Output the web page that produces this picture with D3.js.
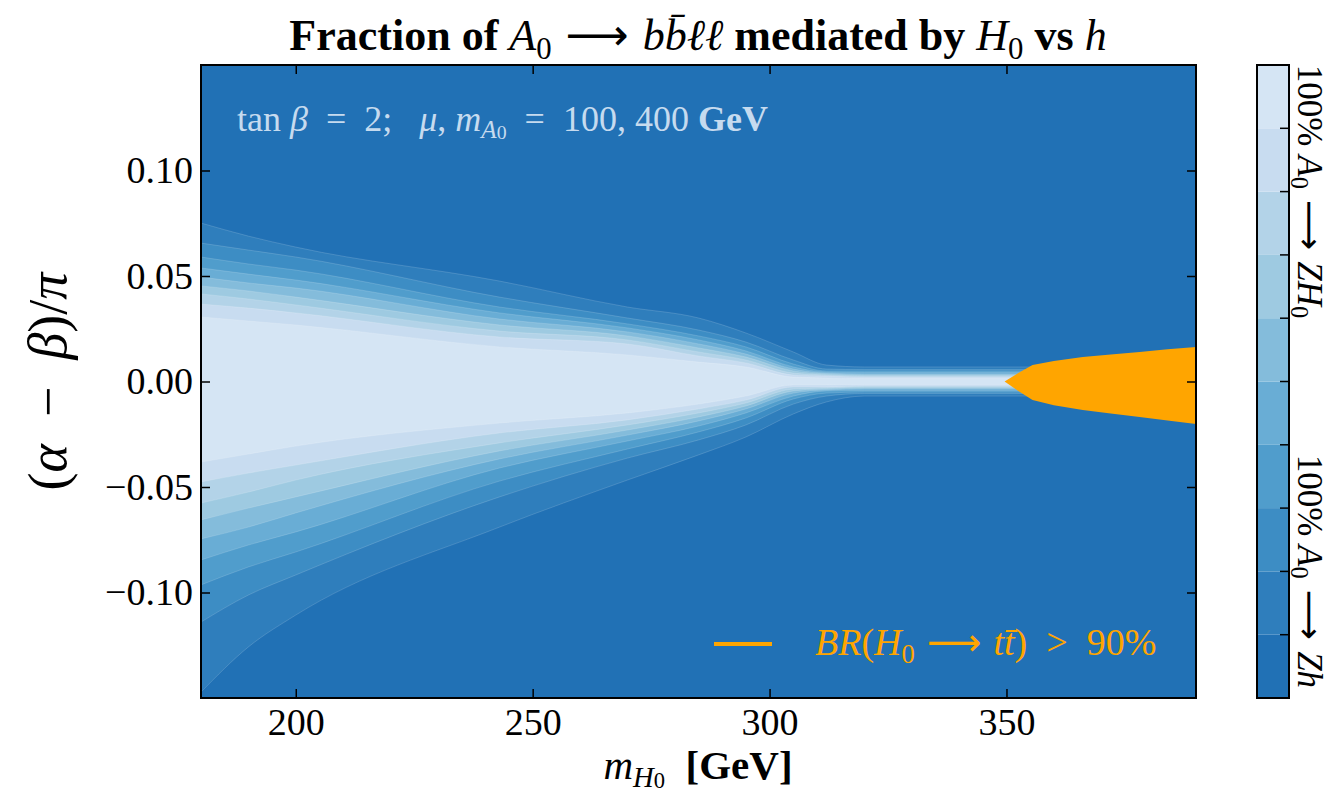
<!DOCTYPE html>
<html>
<head>
<meta charset="utf-8">
<script src="https://cdn.jsdelivr.net/npm/d3@7"></script>
<style>
  body { margin: 0; background: #fff; }
  svg { display: block; }
  text { font-family: "Liberation Serif", "DejaVu Serif", serif; }
</style>
</head>
<body>
<svg id="chart" width="1331" height="796"></svg>
<script>
// mass points (GeV) where the contour edges were read
const massGrid = [180, 190, 200, 243, 270, 285, 295, 305, 312, 320, 390];

// upper edges of the filled contours, outermost level first, (alpha-beta)/pi
const upperEdges = [
  [0.0751, 0.0689, 0.0637, 0.0476, 0.0353, 0.0301, 0.0230, 0.0140, 0.0078, 0.0069, 0.0069],
  [0.0656, 0.0623, 0.0590, 0.0400, 0.0301, 0.0244, 0.0187, 0.0102, 0.0059, 0.0057, 0.0057],
  [0.0590, 0.0557, 0.0528, 0.0353, 0.0273, 0.0216, 0.0164, 0.0083, 0.0050, 0.0050, 0.0050],
  [0.0538, 0.0509, 0.0481, 0.0325, 0.0254, 0.0197, 0.0145, 0.0069, 0.0045, 0.0043, 0.0043],
  [0.0495, 0.0467, 0.0443, 0.0296, 0.0235, 0.0178, 0.0130, 0.0059, 0.0040, 0.0036, 0.0036],
  [0.0453, 0.0429, 0.0400, 0.0268, 0.0216, 0.0159, 0.0116, 0.0050, 0.0036, 0.0031, 0.0031],
  [0.0415, 0.0391, 0.0363, 0.0239, 0.0197, 0.0140, 0.0102, 0.0040, 0.0031, 0.0026, 0.0026],
  [0.0367, 0.0348, 0.0325, 0.0211, 0.0178, 0.0121, 0.0088, 0.0031, 0.0026, 0.0021, 0.0021],
  [0.0306, 0.0287, 0.0268, 0.0164, 0.0126, 0.0092, 0.0069, 0.0021, 0.0017, 0.0014, 0.0014]
];

// lower edges, same order
const lowerEdges = [
  [-0.1472, -0.1258, -0.1107, -0.0690, -0.0467, -0.0348, -0.0263, -0.0154, -0.0097, -0.0069, -0.0069],
  [-0.1140, -0.1012, -0.0917, -0.0547, -0.0363, -0.0277, -0.0206, -0.0107, -0.0069, -0.0057, -0.0057],
  [-0.0964, -0.0879, -0.0808, -0.0472, -0.0320, -0.0239, -0.0173, -0.0083, -0.0055, -0.0050, -0.0050],
  [-0.0846, -0.0775, -0.0713, -0.0410, -0.0282, -0.0211, -0.0149, -0.0069, -0.0045, -0.0043, -0.0043],
  [-0.0746, -0.0690, -0.0623, -0.0367, -0.0254, -0.0187, -0.0130, -0.0055, -0.0040, -0.0036, -0.0036],
  [-0.0656, -0.0600, -0.0547, -0.0329, -0.0230, -0.0168, -0.0116, -0.0045, -0.0036, -0.0031, -0.0031],
  [-0.0576, -0.0524, -0.0467, -0.0291, -0.0206, -0.0149, -0.0102, -0.0036, -0.0031, -0.0026, -0.0026],
  [-0.0476, -0.0434, -0.0396, -0.0244, -0.0182, -0.0130, -0.0088, -0.0026, -0.0026, -0.0021, -0.0021],
  [-0.0382, -0.0344, -0.0306, -0.0197, -0.0149, -0.0107, -0.0069, -0.0017, -0.0017, -0.0014, -0.0014]
];

// BR(H0 -> tt) > 90% region
const ttMass  = [349.6, 352.5, 355.5, 360, 366.1, 372, 378.1, 384, 390];
const ttUpper = [0, 0.0040, 0.0078, 0.0097, 0.0116, 0.0128, 0.0140, 0.0153, 0.0164];
const ttLower = [0, -0.0045, -0.0088, -0.0112, -0.0135, -0.0152, -0.0168, -0.0185, -0.0201];

// colour levels: fraction mediated by H0, 0 = all Zh, 1 = all ZH0
const levels = [0, 0.1, 0.2, 0.3, 0.4, 0.5, 0.6, 0.7, 0.8, 0.9, 1.0];
const levelColors = ["#2171b5", "#2f7ebc", "#3d8dc4", "#509dcc", "#69add5",
                     "#84bcdb", "#9ecae1", "#b3d3e8", "#c8dcf0", "#d5e5f4"];

const xTicks = [200, 250, 300, 350];
const yTicks = [-0.10, -0.05, 0.00, 0.05, 0.10];

const svg = d3.select("#chart");

const plot = { left: 201, right: 1196, top: 65, bottom: 698 };

const x = d3.scaleLinear().domain([180, 390]).range([plot.left, plot.right]);
const y = d3.scaleLinear().domain([-0.15, 0.15]).range([plot.bottom, plot.top]);

const sp = "\u00a0";
const arrow = sp + "\u27f6" + sp;

// rich text: i = italic, b = bold, s = subscript (ss = second level), a = arrow glyph
function richText(parent, parts, size) {
  const t = parent.append("text").attr("font-size", size);
  let shift = 0;
  parts.forEach(([str, st]) => {
    const depth = (st.match(/s/g) || []).length;
    const target = depth === 0 ? 0 : (depth === 1 ? size * 0.2 : size * 0.22);
    const ts = t.append("tspan")
      .text(str)
      .attr("dy", target - shift)
      .attr("font-style", st.includes("i") ? "italic" : "normal")
      .attr("font-weight", st.includes("b") ? "bold" : "normal")
      .attr("font-size", depth === 0 ? size : (depth === 1 ? size * 0.7 : size * 0.55));
    if (st.includes("a")) ts.attr("font-family", "DejaVu Sans").attr("font-weight", "normal");
    shift = target;
  });
  return t;
}

/**
 * Filled contours
 */
svg.append("clipPath").attr("id", "plotclip")
  .append("rect")
  .attr("x", plot.left).attr("y", plot.top)
  .attr("width", plot.right - plot.left).attr("height", plot.bottom - plot.top);

const g_plot = svg.append("g").attr("clip-path", "url(#plotclip)");

g_plot.append("rect")
  .attr("x", plot.left).attr("y", plot.top)
  .attr("width", plot.right - plot.left).attr("height", plot.bottom - plot.top)
  .attr("fill", levelColors[0]);

const band = d3.area()
  .x(d => x(d.m))
  .y0(d => y(d.lo))
  .y1(d => y(d.hi))
  .curve(d3.curveMonotoneX);

const bands = upperEdges.map((up, k) =>
  massGrid.map((m, i) => ({ m: m, hi: up[i], lo: lowerEdges[k][i] })));

g_plot.selectAll(".band")
  .data(bands)
  .enter()
  .append("path")
  .attr("class", "band")
  .attr("d", band)
  .attr("fill", (d, k) => levelColors[k + 1])
  .attr("stroke", "rgba(255,255,255,0.22)")
  .attr("stroke-width", 0.7);

const ttArea = ttMass.map((m, i) => ({ m: m, hi: ttUpper[i], lo: ttLower[i] }));

g_plot.append("path")
  .datum(ttArea)
  .attr("d", d3.area().x(d => x(d.m)).y0(d => y(d.lo)).y1(d => y(d.hi)).curve(d3.curveLinear))
  .attr("fill", "#ffa500");

/**
 * Axes, ticks inside on all four sides
 */
const tickFont = 38;

svg.append("g")
  .attr("transform", "translate(0," + plot.bottom + ")")
  .call(d3.axisBottom(x).tickValues(xTicks).tickSizeInner(-9).tickSizeOuter(0).tickPadding(10).tickFormat(d3.format("d")))
  .call(g => g.select(".domain").remove())
  .call(g => g.selectAll("text").attr("font-size", tickFont).attr("font-family", "Liberation Serif").attr("fill", "#000"));

svg.append("g")
  .attr("transform", "translate(0," + plot.top + ")")
  .call(d3.axisTop(x).tickValues(xTicks).tickSizeInner(-9).tickSizeOuter(0).tickFormat(""))
  .call(g => g.select(".domain").remove());

svg.append("g")
  .attr("transform", "translate(" + plot.left + ",0)")
  .call(d3.axisLeft(y).tickValues(yTicks).tickSizeInner(-9).tickSizeOuter(0).tickPadding(8).tickFormat(d3.format(".2f")))
  .call(g => g.select(".domain").remove())
  .call(g => g.selectAll("text").attr("font-size", tickFont).attr("font-family", "Liberation Serif").attr("fill", "#000"));

svg.append("g")
  .attr("transform", "translate(" + plot.right + ",0)")
  .call(d3.axisRight(y).tickValues(yTicks).tickSizeInner(-9).tickSizeOuter(0).tickFormat(""))
  .call(g => g.select(".domain").remove());

svg.selectAll(".tick line").attr("stroke", "#000").attr("stroke-width", 1.5);

svg.append("rect")
  .attr("x", plot.left).attr("y", plot.top)
  .attr("width", plot.right - plot.left).attr("height", plot.bottom - plot.top)
  .attr("fill", "none").attr("stroke", "#000").attr("stroke-width", 2);

/**
 * Title and axis labels
 */
richText(svg, [["Fraction of ", "b"], ["A", "i"], ["0", "s"], [arrow, "a"], ["b\u0062\u0304\u2113\u2113", "i"],
               [" mediated by ", "b"], ["H", "i"], ["0", "s"], [" vs ", "b"], ["h", "i"]], 44)
  .attr("x", 698).attr("y", 50).attr("text-anchor", "middle");

richText(svg, [["m", "i"], ["H", "is"], ["0", "ss"], [sp + " [GeV]", "b"]], 41)
  .attr("x", 698).attr("y", 779).attr("text-anchor", "middle");

richText(svg, [["(", ""], ["\u03b1", "i"], [sp + " \u2212 " + sp, ""], ["\u03b2", "i"], [")/", ""], ["\u03c0", "i"]], 54)
  .attr("text-anchor", "middle")
  .attr("transform", "translate(66," + y(0) + ") rotate(-90)");

/**
 * Annotation and legend
 */
richText(svg, [["tan" + sp, ""], ["\u03b2", "i"], [sp + " = " + sp + "2;" + sp + sp + " ", ""], ["\u03bc", "i"], [", ", ""],
               ["m", "i"], ["A", "is"], ["0", "ss"], [sp + " = " + sp + "100, 400 ", ""], ["GeV", "b"]], 36)
  .attr("x", 237).attr("y", 131).attr("fill", "#c6dbef");

svg.append("line")
  .attr("x1", 714).attr("x2", 772).attr("y1", 644).attr("y2", 644)
  .attr("stroke", "#ffa500").attr("stroke-width", 4);

richText(svg, [["BR", "i"], ["(", ""], ["H", "i"], ["0", "s"], [arrow, "a"], ["t", "i"], ["t\u0304", "i"],
               [")" + sp + " > " + sp + "90%", ""]], 38)
  .attr("x", 815).attr("y", 655).attr("fill", "#ffa500");

/**
 * Colorbar
 */
const cb = { left: 1257, width: 32 };
const cbScale = d3.scaleLinear().domain([0, 1]).range([plot.bottom, plot.top]);

svg.selectAll(".cb_band")
  .data(levelColors)
  .enter()
  .append("rect")
  .attr("class", "cb_band")
  .attr("x", cb.left)
  .attr("width", cb.width)
  .attr("y", (d, i) => cbScale(levels[i + 1]))
  .attr("height", (d, i) => cbScale(levels[i]) - cbScale(levels[i + 1]))
  .attr("fill", d => d);

svg.selectAll(".cb_tick")
  .data(levels.slice(1, -1))
  .enter()
  .append("line")
  .attr("class", "cb_tick")
  .attr("x1", cb.left + cb.width - 9).attr("x2", cb.left + cb.width)
  .attr("y1", d => cbScale(d)).attr("y2", d => cbScale(d))
  .attr("stroke", "#000").attr("stroke-width", 1.5);

svg.append("rect")
  .attr("x", cb.left).attr("y", plot.top)
  .attr("width", cb.width).attr("height", plot.bottom - plot.top)
  .attr("fill", "none").attr("stroke", "#000").attr("stroke-width", 2);

richText(svg, [["100% ", ""], ["A", "i"], ["0", "s"], [arrow, "a"], ["ZH", "i"], ["0", "s"]], 35)
  .attr("text-anchor", "middle")
  .attr("transform", "translate(1298," + cbScale(0.8) + ") rotate(90)");

richText(svg, [["100% ", ""], ["A", "i"], ["0", "s"], [arrow, "a"], ["Zh", "i"]], 35)
  .attr("text-anchor", "middle")
  .attr("transform", "translate(1298," + cbScale(0.2) + ") rotate(90)");
</script>
</body>
</html>
